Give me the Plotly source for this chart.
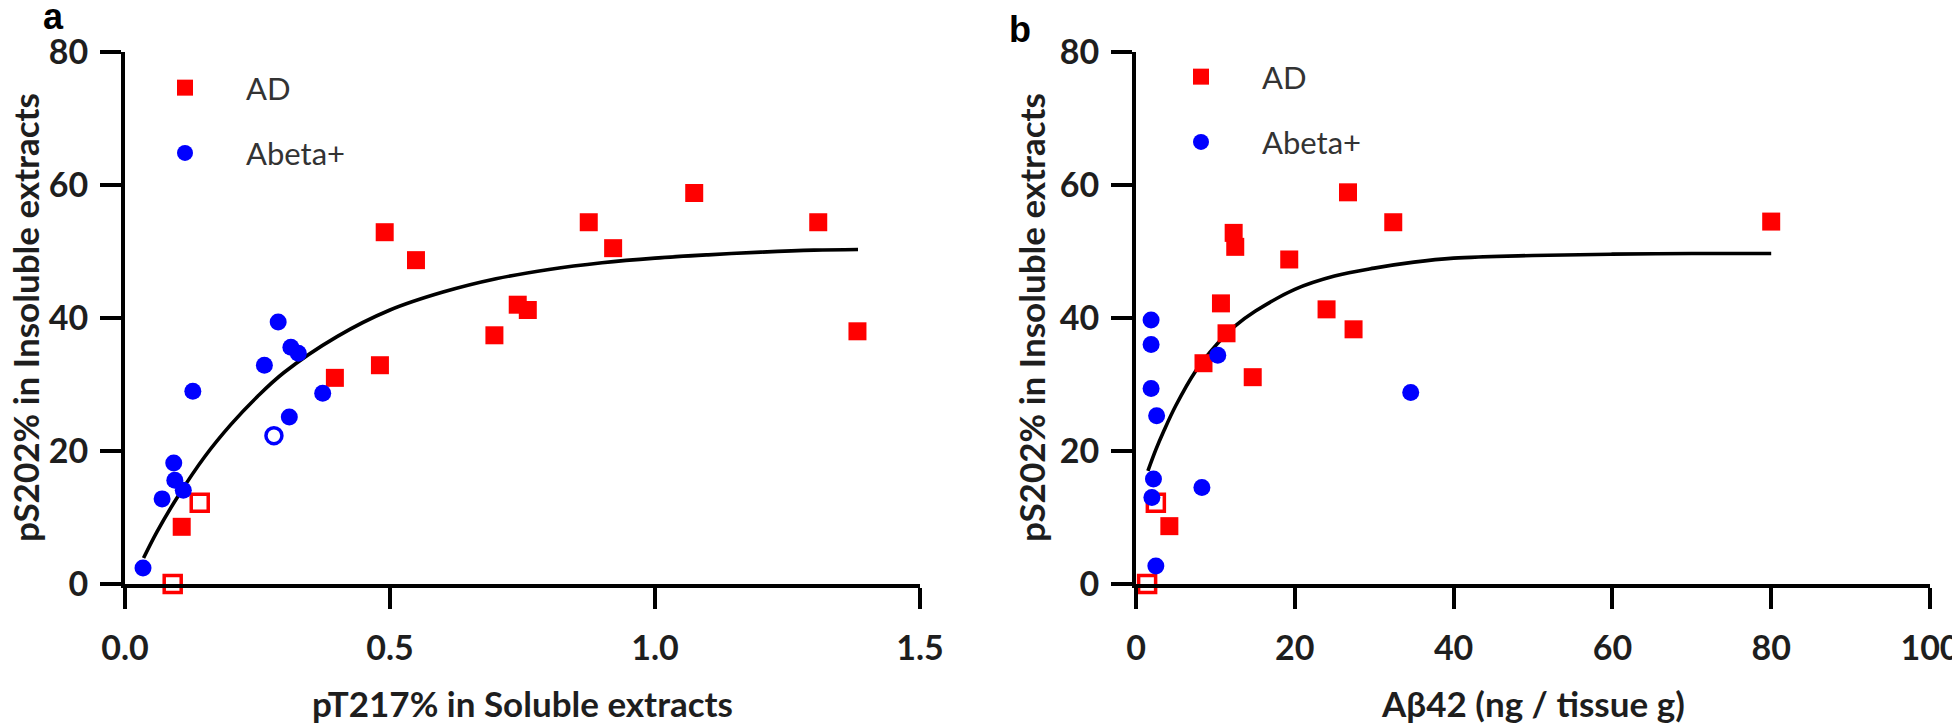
import plotly.graph_objects as go

# ---------------- Panel a: pT217% (soluble) vs pS202% (insoluble) ----------------
a_ad_x = [0.107, 0.396, 0.481, 0.490, 0.549, 0.697, 0.741, 0.760, 0.875, 0.921, 1.074, 1.308, 1.382]
a_ad_y = [8.6, 31.0, 32.9, 52.9, 48.7, 37.4, 42.0, 41.2, 54.4, 50.5, 58.8, 54.4, 38.0]
a_ad_open_x = [0.090, 0.141]
a_ad_open_y = [0.0, 12.2]
a_ab_x = [0.034, 0.070, 0.092, 0.094, 0.110, 0.128, 0.263, 0.289, 0.313, 0.327, 0.310, 0.373]
a_ab_y = [2.4, 12.8, 18.2, 15.6, 14.1, 29.0, 32.9, 39.4, 35.6, 34.7, 25.1, 28.7]
a_ab_open_x = [0.281]
a_ab_open_y = [22.3]
a_fit_x = [0.035, 0.06, 0.10, 0.15, 0.20, 0.25, 0.30, 0.40, 0.50, 0.60, 0.70, 0.80, 0.90, 1.00, 1.10, 1.20, 1.30, 1.383]
a_fit_y = [3.9, 7.8, 13.2, 19.1, 24.0, 28.2, 31.8, 37.2, 41.2, 43.9, 45.9, 47.3, 48.3, 49.0, 49.5, 49.9, 50.2, 50.3]
a_xticks = [0.0, 0.5, 1.0, 1.5]
a_xticktext = ["0.0", "0.5", "1.0", "1.5"]

# ---------------- Panel b: Abeta42 vs pS202% (insoluble) ----------------
b_ad_x = [4.2, 8.5, 10.7, 11.4, 12.3, 12.5, 14.7, 19.3, 24.0, 26.7, 27.4, 32.4, 80.0]
b_ad_y = [8.7, 33.2, 42.2, 37.7, 52.8, 50.7, 31.1, 48.8, 41.3, 58.9, 38.3, 54.4, 54.5]
b_ad_open_x = [1.4, 2.5]
b_ad_open_y = [0.0, 12.2]
b_ab_x = [1.9, 1.9, 10.3, 1.9, 2.6, 2.2, 8.3, 2.0, 2.5, 34.6]
b_ab_y = [39.7, 36.0, 34.4, 29.4, 25.3, 15.8, 14.5, 13.0, 2.7, 28.8]
b_fit_x = [1.5, 2.5, 3.5, 5, 7.5, 10, 12.5, 15, 20, 25, 30, 35, 40, 50, 60, 70, 80]
b_fit_y = [17.0, 20.2, 23.0, 26.8, 32.0, 35.8, 38.8, 41.0, 44.3, 46.3, 47.5, 48.4, 49.0, 49.4, 49.6, 49.7, 49.7]
b_xticks = [0, 20, 40, 60, 80, 100]

y_ticks = [0, 20, 40, 60, 80]

RED = "#FF0000"
BLUE = "#0000FF"
FONT = "Lato"
TXT = "#1e1e1e"

# the page body has an 8px margin: size the figure so it fills the 1960x726 window exactly
OFF = 8
FW, FH = 1960 - OFF, 726 - OFF


def PX(px):  # window x pixel -> paper fraction
    return (px - OFF) / FW


def PY(py):  # window y pixel -> paper fraction
    return 1 - (py - OFF) / FH


fig = go.Figure()


def add_panel(xa, ya, legend, ad_x, ad_y, ado_x, ado_y, ab_x, ab_y, abo_x, abo_y, fx, fy):
    fig.add_trace(go.Scatter(x=fx, y=fy, mode="lines", line=dict(color="black", width=3.6, shape="spline"),
                             xaxis=xa, yaxis=ya, showlegend=False, hoverinfo="skip"))
    fig.add_trace(go.Scatter(x=ad_x, y=ad_y, mode="markers", name="AD",
                             marker=dict(symbol="square", size=18, color=RED),
                             xaxis=xa, yaxis=ya, legend=legend, legendgroup=legend + "ad",
                             cliponaxis=False))
    fig.add_trace(go.Scatter(x=ado_x, y=ado_y, mode="markers", name="AD",
                             marker=dict(symbol="square-open", size=17, color=RED, line=dict(width=3.5, color=RED)),
                             xaxis=xa, yaxis=ya, showlegend=False, cliponaxis=False))
    fig.add_trace(go.Scatter(x=ab_x, y=ab_y, mode="markers", name="Abeta+",
                             marker=dict(symbol="circle", size=17, color=BLUE),
                             xaxis=xa, yaxis=ya, legend=legend, legendgroup=legend + "ab",
                             cliponaxis=False))
    if abo_x:
        fig.add_trace(go.Scatter(x=abo_x, y=abo_y, mode="markers", name="Abeta+",
                                 marker=dict(symbol="circle-open", size=16, color=BLUE, line=dict(width=3.5, color=BLUE)),
                                 xaxis=xa, yaxis=ya, showlegend=False, cliponaxis=False))


add_panel("x", "y", "legend", a_ad_x, a_ad_y, a_ad_open_x, a_ad_open_y,
          a_ab_x, a_ab_y, a_ab_open_x, a_ab_open_y, a_fit_x, a_fit_y)
add_panel("x2", "y2", "legend2", b_ad_x, b_ad_y, b_ad_open_x, b_ad_open_y,
          b_ab_x, b_ab_y, [], [], b_fit_x, b_fit_y)

axis_common = dict(showgrid=False, zeroline=False, showline=True, linewidth=4, linecolor="black",
                   ticks="outside", ticklen=21, tickwidth=4, tickcolor="black", automargin=False,
                   tickfont=dict(family=FONT, size=34, color=TXT, weight="bold"))

ydom = [PY(584), PY(52)]

legend_font = dict(family=FONT, size=31, color="#333333")

fig.update_layout(
    width=FW, height=FH,
    margin=dict(l=0, r=0, t=0, b=0, autoexpand=False),
    paper_bgcolor="white", plot_bgcolor="white",
    xaxis=dict(domain=[PX(125), PX(920)], range=[0, 1.5], tickvals=a_xticks, ticktext=a_xticktext,
               anchor="y", ticklabelstandoff=10, **axis_common),
    yaxis=dict(domain=ydom, range=[0, 80], tickvals=y_ticks, anchor="x", ticklabelstandoff=5, **axis_common),
    xaxis2=dict(domain=[PX(1136), PX(1930)], range=[0, 100], tickvals=b_xticks, anchor="y2",
                ticklabelstandoff=10, **axis_common),
    yaxis2=dict(domain=ydom, range=[0, 80], tickvals=y_ticks, anchor="x2", ticklabelstandoff=5, **axis_common),
    legend=dict(x=PX(124), y=PY(61), xanchor="left", yanchor="top", itemwidth=112,
                traceorder="grouped", tracegroupgap=22, bgcolor="rgba(0,0,0,0)", font=legend_font),
    legend2=dict(x=PX(1140), y=PY(50), xanchor="left", yanchor="top", itemwidth=112,
                 traceorder="grouped", tracegroupgap=22, bgcolor="rgba(0,0,0,0)", font=legend_font),
    showlegend=True,
)

title_font = dict(family=FONT, size=35, color=TXT, weight="bold")
panel_font = dict(family="Liberation Sans", size=36, color="black", weight="bold")
annos = [
    dict(text="a", x=PX(53), y=PY(16), font=panel_font),
    dict(text="b", x=PX(1020), y=PY(30), font=panel_font),
    dict(text="pS202% in Insoluble extracts", x=PX(25), y=PY(318), textangle=-90, font=title_font),
    dict(text="pS202% in Insoluble extracts", x=PX(1031), y=PY(318), textangle=-90, font=title_font),
    dict(text="pT217% in Soluble extracts", x=PX(522), y=PY(703), font=title_font),
    dict(text="Aβ42 (ng / tissue g)", x=PX(1533), y=PY(703), font=title_font),
]
for a in annos:
    fig.add_annotation(xref="paper", yref="paper", showarrow=False, xanchor="center", yanchor="middle",
                       borderpad=0, **a)

fig.write_html("out.html")
